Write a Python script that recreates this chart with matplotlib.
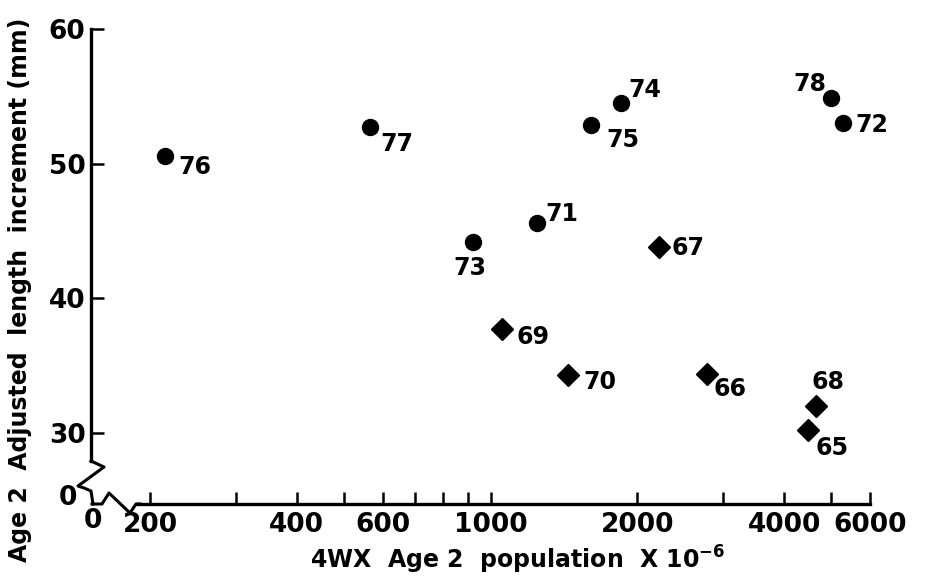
import matplotlib.pyplot as plt
from matplotlib.lines import Line2D
from matplotlib.ticker import FixedLocator, FixedFormatter, NullLocator

# Filled circles: years 71-78
circ_years = ['71', '72', '73', '74', '75', '76', '77', '78']
circ_pop = [1242, 5272, 919, 1847, 1603, 215, 565, 4982]
circ_len = [45.6, 53.0, 44.2, 54.5, 52.9, 50.6, 52.7, 54.9]

# Filled diamonds: years 65-70
diam_years = ['65', '66', '67', '68', '69', '70']
diam_pop = [4481, 2773, 2216, 4648, 1053, 1438]
diam_len = [30.2, 34.4, 43.8, 32.0, 37.7, 34.3]

x_ticks = [200, 300, 400, 500, 600, 700, 800, 900, 1000, 2000, 3000, 4000, 5000, 6000]
x_ticklabels = ['200', '', '400', '', '600', '', '', '', '1000', '2000', '', '4000', '', '6000']
y_ticks = [30, 40, 50, 60]

# label offsets from the marker, in pixels (dx right, dy down)
label_off = {
    '76': (30, 11), '77': (27, 17), '74': (24, -13), '75': (32, 15),
    '78': (-21, -14), '72': (29, 2), '71': (25, -9), '73': (-3, 26),
    '67': (29, 1), '69': (31, 8), '70': (32, 7), '66': (23, 15),
    '68': (12, -24), '65': (24, 18),
}

plt.rcParams['font.family'] = 'DejaVu Sans'
plt.rcParams['font.weight'] = 'bold'

W, H = 928, 578
fig = plt.figure(figsize=(W / 100, H / 100), dpi=100)
ax_l, ax_r, ax_t, ax_b = 135, 870, 29, 504
ax = fig.add_axes([ax_l / W, (H - ax_b) / H, (ax_r - ax_l) / W, (ax_b - ax_t) / H])

ax.set_xscale('log')
ax.set_xlim(186.3, 6000)
ax.set_ylim(60 - (ax_b - ax_t) / 13.47, 60)

ax.plot(circ_pop, circ_len, 'o', color='black', markersize=11.5, clip_on=False)
ax.plot(diam_pop, diam_len, 'D', color='black', markersize=11.5, clip_on=False)

for yrs, xs, ys in [(circ_years, circ_pop, circ_len), (diam_years, diam_pop, diam_len)]:
    for yr, xv, yv in zip(yrs, xs, ys):
        dx, dy = label_off[yr]
        ax.annotate(yr, (xv, yv), xytext=(dx, -dy), textcoords='offset pixels',
                    ha='center', va='center', fontsize=17, fontweight='bold',
                    annotation_clip=False)

# axes styling
for s in ['top', 'right']:
    ax.spines[s].set_visible(False)
ax.spines['left'].set_position(('axes', (91 - ax_l) / (ax_r - ax_l)))
ax.spines['left'].set_bounds(60 - (461 - ax_t) / 13.47, 60)
ax.spines['bottom'].set_bounds(188, 6000)
for s in ['left', 'bottom']:
    ax.spines[s].set_linewidth(2.4)

ax.xaxis.set_major_locator(FixedLocator(x_ticks))
ax.xaxis.set_major_formatter(FixedFormatter(x_ticklabels))
ax.xaxis.set_minor_locator(NullLocator())
ax.set_yticks(y_ticks)
ax.set_yticklabels([str(v) for v in y_ticks])
ax.tick_params(axis='both', direction='in', length=9, width=1.8, labelsize=19)
ax.tick_params(axis='x', pad=6)
ax.tick_params(axis='y', pad=4)

# axis breaks near the origin, drawn in figure pixels
def px(xs, ys):
    return [x / W for x in xs], [(H - y) / H for y in ys]

bx, by = px([91, 104, 78, 84, 91, 93], [461, 467, 486, 488, 491, 504])
fig.add_artist(Line2D(bx, by, color='black', lw=2.2, transform=fig.transFigure))
bx, by = px([92, 102, 109, 130, 136, 140], [504, 504, 493, 513, 504, 504])
fig.add_artist(Line2D(bx, by, color='black', lw=2.2, transform=fig.transFigure))
fig.text(68 / W, (H - 498) / H, '0', ha='center', va='center', fontsize=19, fontweight='bold')
fig.text(93 / W, (H - 521) / H, '0', ha='center', va='center', fontsize=19, fontweight='bold')

fig.text(518 / W, (H - 560) / H, r'4WX  Age 2  population  X $\mathbf{10^{-6}}$',
         ha='center', va='center', fontsize=17, fontweight='bold')
fig.text(20 / W, (H - 290) / H, 'Age 2  Adjusted  length  increment (mm)',
         ha='center', va='center', rotation=90, fontsize=17, fontweight='bold')

fig.savefig('out.png', dpi=100)
